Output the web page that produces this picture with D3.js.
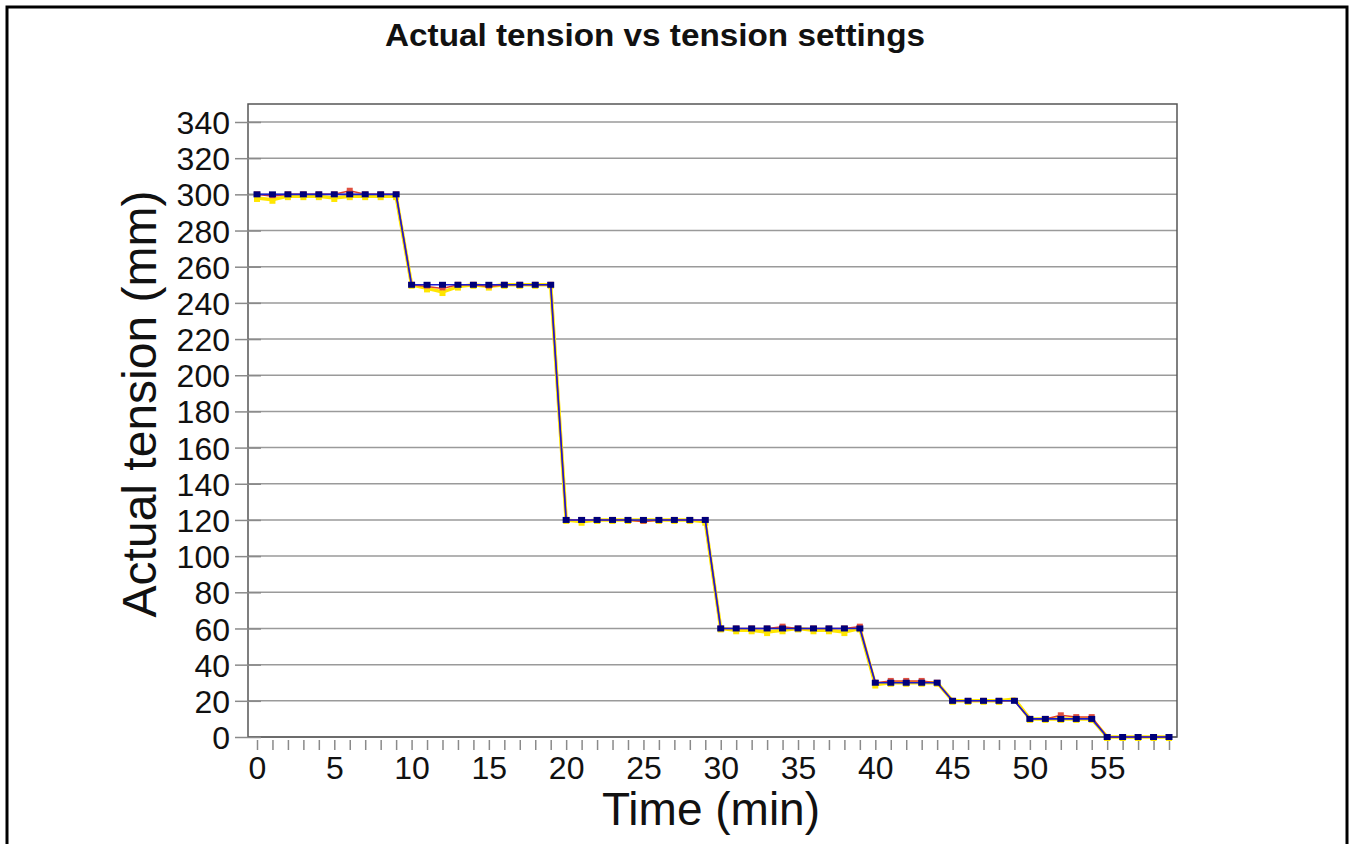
<!DOCTYPE html>
<html><head><meta charset="utf-8">
<script src="https://cdn.jsdelivr.net/npm/d3@7"></script>
<style>body{margin:0;background:#fff;}svg{display:block;font-family:"Liberation Sans",Arial,sans-serif;}</style>
</head><body><svg id="c" width="1351" height="844"></svg>
<script>
const times = d3.range(0, 60);
const settings = [300,300,300,300,300,300,300,300,300,300,
  250,250,250,250,250,250,250,250,250,250,
  120,120,120,120,120,120,120,120,120,120,
  60,60,60,60,60,60,60,60,60,60,
  30,30,30,30,30,20,20,20,20,20,
  10,10,10,10,10,0,0,0,0,0];
const actualA = [300,299,300,300,300,300,302,300,300,300,
  250,249,248,250,250,249,250,250,250,250,
  120,120,120,120,120,119,120,120,120,120,
  60,60,60,60,61,60,60,60,60,61,
  30,31,31,31,30,20,20,20,20,20,
  10,10,12,11,11,0,0,0,0,0];
const actualB = [298,297,299,299,299,298,299,299,299,299,
  250,248,246,249,250,249,250,250,250,250,
  120,119,120,120,120,120,120,120,120,119,
  60,59,59,58,59,60,59,59,58,60,
  29,30,30,30,30,20,20,20,20,21,
  10,10,10,10,10,0,0,0,0,0];
const yTicks = d3.range(0, 341, 20);
const xLabels = [0,5,10,15,20,25,30,35,40,45,50,55];
const title = "Actual tension vs tension settings";
const xTitle = "Time (min)";
const yTitle = "Actual tension (mm)";

const svg = d3.select("#c");
svg.append("rect").attr("x",7).attr("y",7).attr("width",1340).attr("height",860)
  .attr("fill","none").attr("stroke","#000").attr("stroke-width",3);

const L=248,R=1177,T=104,B=737;
const x = d3.scaleLinear().domain([0,59]).range([257,1169]);
const y = d3.scaleLinear().domain([0,340]).range([B,122]);

svg.append("g").selectAll("line").data(yTicks).join("line")
  .attr("x1",L).attr("x2",R).attr("y1",d=>y(d)).attr("y2",d=>y(d))
  .attr("stroke","#9a9a9a").attr("stroke-width",1.5);
svg.append("rect").attr("x",L).attr("y",T).attr("width",R-L).attr("height",B-T)
  .attr("fill","none").attr("stroke","#555").attr("stroke-width",1.5);

const ya = svg.append("g").attr("transform",`translate(${L},0)`)
  .call(d3.axisLeft(y).tickValues(yTicks).tickSize(13));
ya.select(".domain").remove();
ya.selectAll(".tick line").attr("x2",13).attr("stroke","#8a8a8a").attr("stroke-width",1.5).attr("x1",-13);
ya.selectAll(".tick text").attr("font-size",32).attr("fill","#111")
  .attr("font-family","'Liberation Sans',Arial,sans-serif").attr("dy","0.36em").attr("x",-18);

const xa = svg.append("g").attr("transform",`translate(0,${B})`)
  .call(d3.axisBottom(x).tickValues(times).tickSize(13).tickFormat(d=> xLabels.includes(d)? d : ""));
xa.select(".domain").remove();
xa.selectAll(".tick line").attr("stroke","#8a8a8a").attr("stroke-width",1.5).attr("y1",3);
xa.selectAll(".tick text").attr("font-size",32).attr("fill","#111")
  .attr("font-family","'Liberation Sans',Arial,sans-serif").attr("y",19);

const line = arr => d3.line().x((d,i)=>x(times[i])).y(d=>y(d))(arr);
svg.append("path").attr("d",line(actualB)).attr("fill","none").attr("stroke","#ffe600").attr("stroke-width",3.5);
svg.append("g").selectAll("rect").data(actualB).join("rect")
  .attr("x",(d,i)=>x(times[i])-3).attr("y",d=>y(d)-1).attr("width",6).attr("height",5).attr("fill","#ffe600");
svg.append("path").attr("d",line(actualA)).attr("fill","none").attr("stroke","#e0402a").attr("stroke-width",1.5);
svg.append("g").selectAll("rect").data(actualA).join("rect")
  .attr("x",(d,i)=>x(times[i])-3).attr("y",d=>y(d)-3).attr("width",6).attr("height",5).attr("fill","#e05040");
svg.append("path").attr("d",line(settings)).attr("fill","none").attr("stroke","#1a1ad0").attr("stroke-width",1.6);
svg.append("g").selectAll("rect").data(settings).join("rect")
  .attr("x",(d,i)=>x(times[i])-3.5).attr("y",d=>y(d)-3).attr("width",7).attr("height",6).attr("fill","#00007a");

svg.append("text").attr("x",655).attr("y",46).attr("text-anchor","middle")
  .attr("font-size",31).attr("font-weight","bold").attr("fill","#111")
  .attr("textLength",540).attr("lengthAdjust","spacingAndGlyphs").text(title);
svg.append("text").attr("x",711).attr("y",825).attr("text-anchor","middle")
  .attr("font-size",46).attr("fill","#111").text(xTitle);
svg.append("text").attr("transform","translate(156,404) rotate(-90)").attr("text-anchor","middle")
  .attr("font-size",48).attr("fill","#111").text(yTitle);
</script></body></html>
